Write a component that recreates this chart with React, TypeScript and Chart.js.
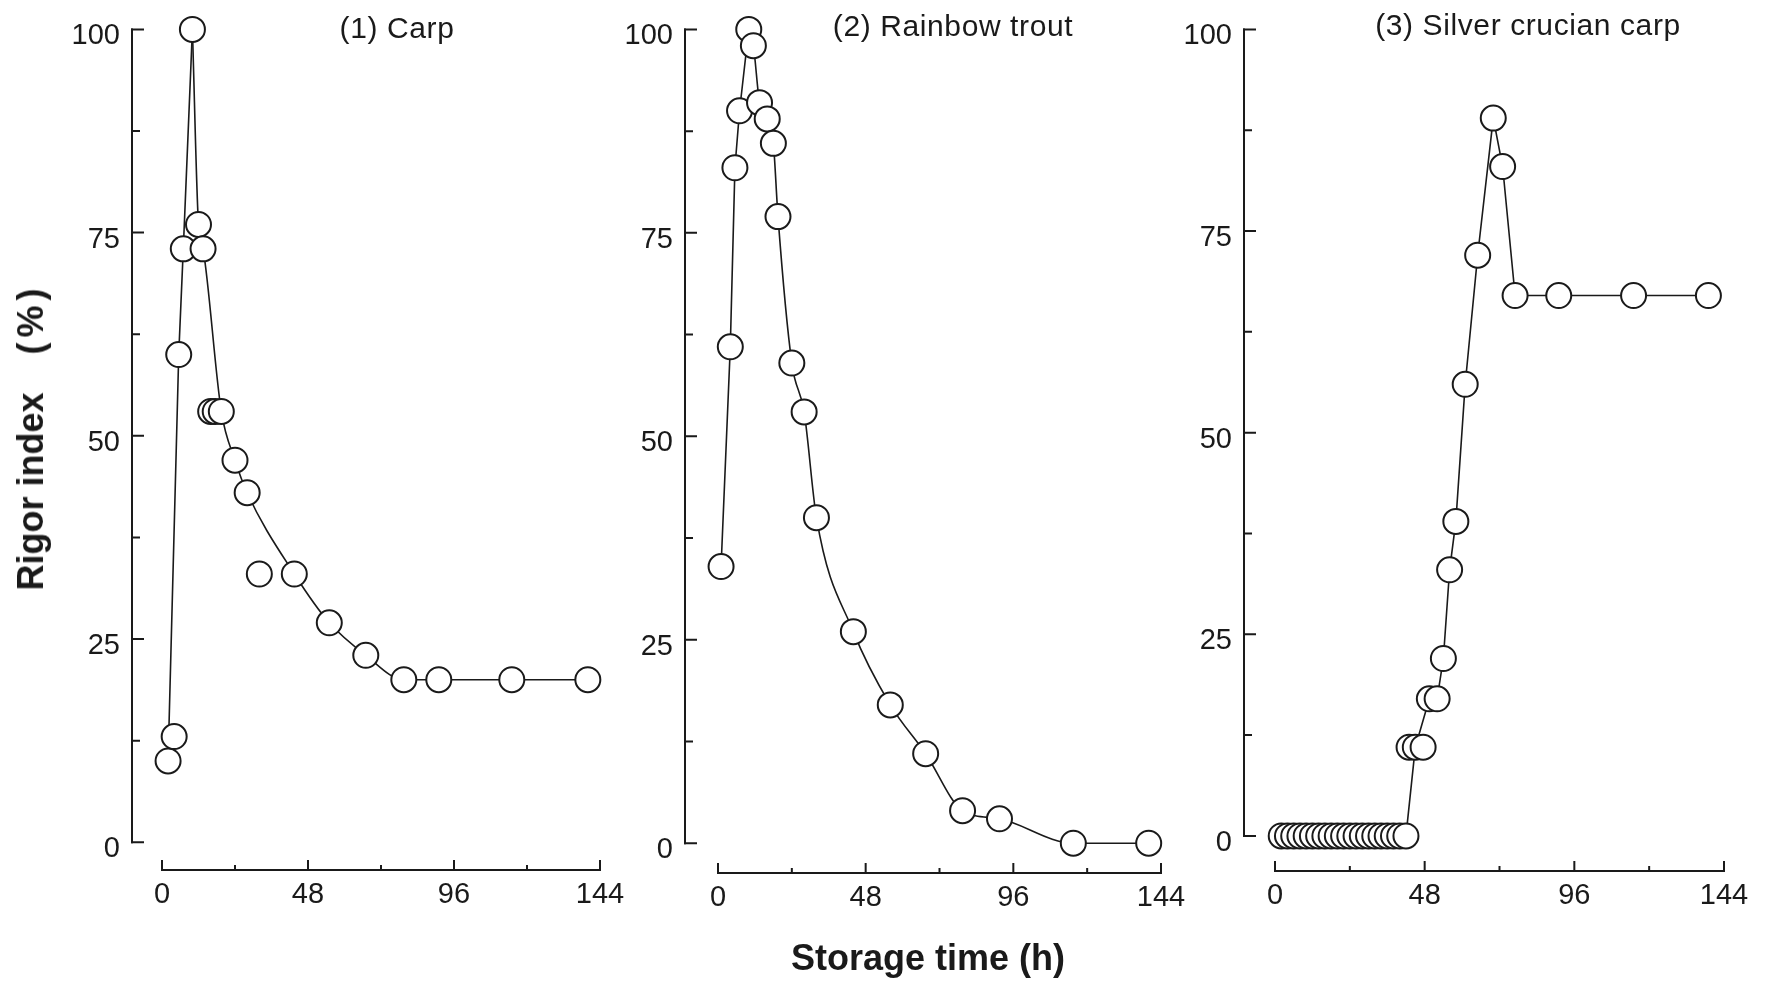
import { useEffect, useRef } from "react";
import { Chart, registerables } from "chart.js";

Chart.register(...registerables);

const FIG_W = 1774;
const FIG_H = 983;
const INK = "#1a1a1a";
const FONT = "'Liberation Sans', Arial, Helvetica, sans-serif";

// Shared axis ticks (storage time in hours, rigor index in %)
const hourTicks = [0, 48, 96, 144];
const hourMinorTicks = [24, 72, 120];
const rigorTicks = [0, 25, 50, 75, 100];
const rigorMinorTicks = [12.5, 37.5, 62.5, 87.5];

// (1) Carp
const carpHours = [2, 4, 5.5, 7, 10, 12, 13.5, 16, 17.5, 19.5, 24, 28, 32, 43.5, 55, 67, 79.5, 91, 115, 140];
const carpRigor = [10, 13, 60, 73, 100, 76, 73, 53, 53, 53, 47, 43, 33, 33, 27, 23, 20, 20, 20, 20];
// indices of the points the trend line runs through
const carpRise = [0, 2, 3, 4];
const carpFall = [4, 5, 6, 9, 10, 11, 13, 14, 15, 16, 17, 18, 19];

// (2) Rainbow trout
const troutHours = [1, 4, 5.5, 7, 10, 11.5, 13.5, 16, 18, 19.5, 24, 28, 32, 44, 56, 67.5, 79.5, 91.5, 115.5, 140];
const troutRigor = [34, 61, 83, 90, 100, 98, 91, 89, 86, 77, 59, 53, 40, 26, 17, 11, 4, 3, 0, 0];
const troutRise = [0, 1, 2, 3, 4];
const troutFall = [4, 5, 6, 7, 8, 9, 10, 11, 12, 13, 14, 15, 16, 17, 18, 19];

// (3) Silver crucian carp
const crucianHours = [
  2, 4, 6, 8, 10, 12, 14, 16, 18, 20, 22, 24, 26, 28, 30, 32, 34, 36, 38, 40, 42,
  43, 45, 47.5, 49.5, 52, 54, 56, 58, 61, 65, 70, 73, 77, 91, 115, 139,
];
const crucianRigor = [
  0, 0, 0, 0, 0, 0, 0, 0, 0, 0, 0, 0, 0, 0, 0, 0, 0, 0, 0, 0, 0,
  11, 11, 11, 17, 17, 22, 33, 39, 56, 72, 89, 83, 67, 67, 67, 67,
];
const crucianLine = [0, 20, 22, 24, 25, 26, 27, 28, 29, 30, 31, 32, 33, 34, 35, 36];

type Frame = {
  axisX: number; // pixel column of the vertical axis line
  zeroX: number; // pixel of 0 h
  endX: number; // pixel of 144 h
  topY: number; // pixel of 100 %
  zeroY: number; // pixel of 0 %
  axisY: number; // pixel row of the horizontal axis line
};

type Panel = {
  key: string;
  title: string;
  titleX: number;
  titleY: number;
  hours: number[];
  rigor: number[];
  curves: { indices: number[]; smooth: boolean }[];
  frame: Frame;
};

const panels: Panel[] = [
  {
    key: "carp",
    title: "(1) Carp",
    titleX: 397,
    titleY: 28,
    hours: carpHours,
    rigor: carpRigor,
    curves: [
      { indices: carpRise, smooth: false },
      { indices: carpFall, smooth: true },
    ],
    frame: { axisX: 132, zeroX: 162, endX: 600, topY: 22, zeroY: 842, axisY: 870 },
  },
  {
    key: "trout",
    title: "(2) Rainbow trout",
    titleX: 953,
    titleY: 26,
    hours: troutHours,
    rigor: troutRigor,
    curves: [
      { indices: troutRise, smooth: false },
      { indices: troutFall, smooth: true },
    ],
    frame: { axisX: 685, zeroX: 718, endX: 1161, topY: 23, zeroY: 843, axisY: 873 },
  },
  {
    key: "crucian",
    title: "(3) Silver crucian carp",
    titleX: 1528,
    titleY: 25,
    hours: crucianHours,
    rigor: crucianRigor,
    curves: [{ indices: crucianLine, smooth: false }],
    frame: { axisX: 1244, zeroX: 1275, endX: 1724, topY: 19, zeroY: 835.5, axisY: 871 },
  },
];

const Y_SCALE_W = 70;
const X_SCALE_H = 50;

// Axis lines that stop at 0–100 % and 0–144 h, with inward tick marks
const offsetAxes = {
  id: "offsetAxes",
  beforeDatasetsDraw(chart: any) {
    const { ctx, chartArea, scales } = chart;
    const xs = scales.x;
    const ys = scales.y;
    const left = chartArea.left;
    const bottom = chartArea.bottom;
    ctx.save();
    ctx.strokeStyle = INK;
    ctx.lineWidth = 2;
    ctx.lineCap = "butt";

    const yTop = ys.getPixelForValue(100);
    const yZero = ys.getPixelForValue(0);
    ctx.beginPath();
    ctx.moveTo(left, yTop - 1);
    ctx.lineTo(left, yZero + 1);
    ctx.stroke();
    ctx.beginPath();
    for (const v of rigorTicks) {
      const p = ys.getPixelForValue(v);
      ctx.moveTo(left - 1, p);
      ctx.lineTo(left + 12, p);
    }
    for (const v of rigorMinorTicks) {
      const p = ys.getPixelForValue(v);
      ctx.moveTo(left - 1, p);
      ctx.lineTo(left + 8, p);
    }
    ctx.stroke();

    const xZero = xs.getPixelForValue(0);
    const xEnd = xs.getPixelForValue(144);
    ctx.beginPath();
    ctx.moveTo(xZero - 1, bottom);
    ctx.lineTo(xEnd + 1, bottom);
    ctx.stroke();
    ctx.beginPath();
    for (const v of hourTicks) {
      const p = xs.getPixelForValue(v);
      ctx.moveTo(p, bottom + 1);
      ctx.lineTo(p, bottom - 10);
    }
    for (const v of hourMinorTicks) {
      const p = xs.getPixelForValue(v);
      ctx.moveTo(p, bottom + 1);
      ctx.lineTo(p, bottom - 5);
    }
    ctx.stroke();
    ctx.restore();
  },
};

function PanelChart({ panel }: { panel: Panel }) {
  const ref = useRef<HTMLCanvasElement>(null);

  useEffect(() => {
    const f = panel.frame;
    const xMin = (-144 * (f.zeroX - f.axisX)) / (f.endX - f.zeroX);
    const yMin = (-100 * (f.axisY - f.zeroY)) / (f.zeroY - f.topY);
    const points = panel.hours.map((h, i) => ({ x: h, y: panel.rigor[i] }));

    const curveSets = panel.curves.map((c, k) => ({
      data: c.indices.map((i) => points[i]),
      showLine: true,
      borderColor: INK,
      borderWidth: 1.6,
      pointRadius: 0,
      pointHoverRadius: 0,
      tension: c.smooth ? 0.4 : 0,
      cubicInterpolationMode: c.smooth ? "monotone" : "default",
      clip: false,
      order: 1 + k,
    }));

    const chart = new Chart(ref.current as HTMLCanvasElement, {
      type: "scatter",
      data: {
        datasets: [
          {
            data: points,
            showLine: false,
            pointRadius: 12.5,
            pointHoverRadius: 12.5,
            pointBorderWidth: 2,
            pointBorderColor: INK,
            pointBackgroundColor: "#ffffff",
            borderColor: INK,
            backgroundColor: "#ffffff",
            clip: false,
            order: 0,
          },
          ...curveSets,
        ] as any,
      },
      plugins: [offsetAxes],
      options: {
        responsive: false,
        animation: false,
        events: [],
        layout: {
          padding: {
            left: f.axisX - Y_SCALE_W,
            right: FIG_W - f.endX,
            top: f.topY,
            bottom: FIG_H - f.axisY - X_SCALE_H,
          },
        },
        plugins: {
          legend: { display: false },
          tooltip: { enabled: false },
          title: { display: false },
        },
        scales: {
          x: {
            type: "linear",
            min: xMin,
            max: 144,
            grid: { display: false, drawTicks: false },
            border: { display: false },
            afterBuildTicks: (s: any) => {
              s.ticks = hourTicks.map((value) => ({ value }));
            },
            afterFit: (s: any) => {
              s.height = X_SCALE_H;
            },
            ticks: {
              font: { family: FONT, size: 29 },
              color: INK,
              padding: 8,
              maxRotation: 0,
              autoSkip: false,
            },
          },
          y: {
            type: "linear",
            min: yMin,
            max: 100,
            grid: { display: false, drawTicks: false },
            border: { display: false },
            afterBuildTicks: (s: any) => {
              s.ticks = rigorTicks.map((value) => ({ value }));
            },
            afterFit: (s: any) => {
              s.width = Y_SCALE_W;
            },
            ticks: {
              font: { family: FONT, size: 29 },
              color: INK,
              padding: 12,
              labelOffset: 7,
              autoSkip: false,
            },
          },
        },
      } as any,
    });

    return () => chart.destroy();
  }, [panel]);

  return (
    <canvas
      ref={ref}
      width={FIG_W}
      height={FIG_H}
      style={{ position: "absolute", left: 0, top: 0, width: FIG_W, height: FIG_H }}
    />
  );
}

const centered = (x: number, y: number): React.CSSProperties => ({
  position: "absolute",
  left: x,
  top: y,
  transform: "translate(-50%, -50%)",
  lineHeight: 1,
  whiteSpace: "nowrap",
  color: INK,
  fontFamily: FONT,
});

export default function App() {
  return (
    <div
      style={{
        position: "fixed",
        left: 0,
        top: 0,
        width: FIG_W,
        height: FIG_H,
        background: "#ffffff",
        overflow: "hidden",
      }}
    >
      {panels.map((p) => (
        <PanelChart key={p.key} panel={p} />
      ))}
      {panels.map((p) => (
        <div key={p.key + "-title"} style={{ ...centered(p.titleX, p.titleY), fontSize: 30, letterSpacing: 0.6 }}>
          {p.title}
        </div>
      ))}
      <div
        style={{
          ...centered(31, 437),
          transform: "translate(-50%, -50%) rotate(-90deg)",
          fontSize: 36,
          fontWeight: "bold",
        }}
      >
        Rigor index
        <span style={{ marginLeft: 38, letterSpacing: 5 }}>(%)</span>
      </div>
      <div style={{ ...centered(928, 958), fontSize: 36, fontWeight: "bold" }}>Storage time (h)</div>
    </div>
  );
}
